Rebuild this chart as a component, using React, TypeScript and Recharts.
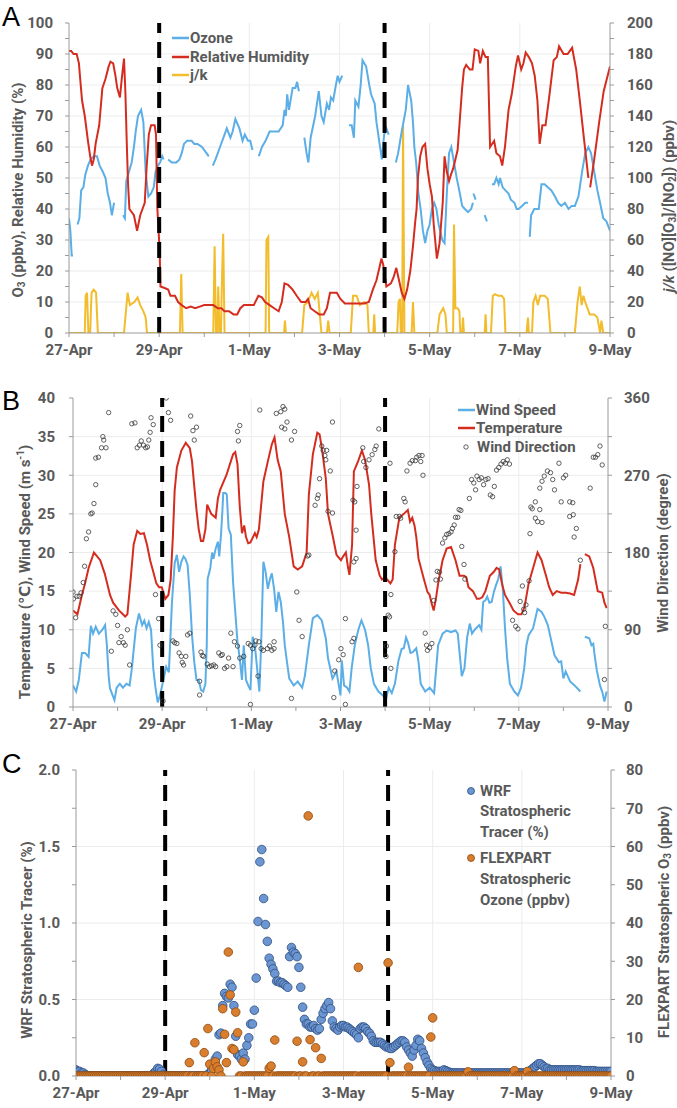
import React from 'react';
import { ComposedChart, Line, Scatter, XAxis, YAxis, CartesianGrid, ReferenceLine } from 'recharts';

// ---------- shared axis data ----------
const dateLabels = ['27-Apr', '29-Apr', '1-May', '3-May', '5-May', '7-May', '9-May'];
const dayTicks = [0, 1, 2, 3, 4, 5, 6, 7, 8, 9, 10, 11, 12];
const gridDays = [2, 4, 6, 8, 10];
const frontDays = [2, 7]; // dashed black lines (29-Apr, 4-May)

// ---------- Panel A (day since 27-Apr 00:00, value) ----------
const ozone: [number, number | null][] = [
  [0, 37], [0.03, 33], [0.06, 25], [0.09, 25], [0.14, null],
  [0.19, 35], [0.23, 37], [0.27, 46], [0.32, 47], [0.36, 51], [0.42, 54], [0.48, 56], [0.55, 57], [0.62, 57], [0.68, 54], [0.75, 52], [0.81, 50], [0.86, 45], [0.91, 42], [0.95, 38], [1.0, 42], [1.1, null],
  [1.2, 38], [1.24, 37], [1.27, 49], [1.33, 52], [1.39, 55], [1.44, 60], [1.48, 65], [1.53, 70], [1.6, 72], [1.65, 68], [1.7, 52], [1.76, 44], [1.82, 45], [1.88, 47], [1.92, 52], [1.97, 54], [2.02, 55], [2.07, 57], [2.1, 56], [2.15, null],
  [2.2, 56], [2.28, 55], [2.38, 55], [2.45, 56], [2.5, 58], [2.55, 61], [2.62, 62], [2.72, 62], [2.78, 61], [2.85, 61], [2.95, 60], [3.05, 58], [3.1, 57], [3.15, null],
  [3.19, 54], [3.25, 56], [3.35, 60], [3.45, 64], [3.5, 66], [3.58, 63], [3.63, 65], [3.69, 69], [3.78, 66], [3.85, 62], [3.9, 64], [3.97, 62], [4.02, 62], [4.07, 59], [4.14, null],
  [4.21, 57], [4.28, 60], [4.36, 62], [4.45, 65], [4.55, 65], [4.65, 65], [4.74, 67], [4.78, 72], [4.81, 70], [4.84, 77], [4.88, 72], [4.96, 79], [5.02, 79], [5.06, 81], [5.1, 78], [5.16, null],
  [5.22, 63], [5.27, 58], [5.31, 55], [5.36, 63], [5.46, 70], [5.54, 78], [5.6, 70], [5.65, 68], [5.72, 74], [5.77, 72], [5.81, 76], [5.86, 75], [5.92, 80], [5.96, 83], [6.0, 81], [6.06, 83], [6.14, null],
  [6.21, 67], [6.27, 67], [6.32, 63], [6.35, 75], [6.42, 73], [6.47, 80], [6.51, 88], [6.59, 86], [6.66, 80], [6.7, 77], [6.78, 74], [6.82, 68], [6.9, 60], [6.94, 56], [6.99, 64], [7.04, 66], [7.09, 64], [7.17, null],
  [7.25, 55], [7.3, 58], [7.38, 65], [7.47, 72], [7.52, 80], [7.59, 75], [7.63, 68], [7.66, 60], [7.7, 55], [7.75, 45], [7.8, 40], [7.85, 33], [7.9, 29], [7.95, 33], [8.0, 35], [8.05, 40], [8.1, 42], [8.15, 40], [8.2, 35], [8.28, 30], [8.33, 29], [8.38, 45], [8.43, 58], [8.48, 60], [8.54, 55], [8.6, 50], [8.67, 45], [8.72, 41], [8.78, 40], [8.85, 39], [8.92, 40], [8.96, 42], [8.965, null],
  [8.97, 45], [9.02, 43], [9.1, null],
  [9.22, 38], [9.27, 36], [9.32, null],
  [9.38, 48], [9.43, 48], [9.48, 50], [9.53, 48], [9.56, 50], [9.62, 47], [9.68, 46], [9.75, 45], [9.8, 43], [9.88, 42], [9.93, 40], [9.97, 40], [10.05, 41], [10.12, 42], [10.18, 42], [10.2, null],
  [10.22, 31], [10.25, 38], [10.32, 40], [10.42, 40], [10.48, 48], [10.55, 48], [10.62, 47], [10.7, 46], [10.78, 44], [10.85, 42], [10.92, 41], [11.0, 42], [11.08, 40], [11.15, 41], [11.22, 41], [11.3, 44], [11.38, 52], [11.45, 58], [11.52, 60], [11.58, 58], [11.65, 52], [11.72, 46], [11.78, 42], [11.85, 37], [11.92, 36], [12, 33],
];

const humidity: [number, number | null][] = [
  [0, 91], [0.05, 91], [0.1, 90], [0.17, 90], [0.22, 87], [0.26, 80], [0.29, 75], [0.35, 70], [0.42, 62], [0.47, 57], [0.51, 54], [0.55, 56], [0.59, 61], [0.67, 67], [0.74, 79], [0.81, 82], [0.88, 86], [0.92, 87.5], [0.98, 87], [1.03, 83], [1.07, 79], [1.13, 76], [1.17, 82], [1.22, 88.5], [1.25, 78], [1.28, 62], [1.31, 48], [1.34, 40], [1.44, 38], [1.51, 33], [1.58, 38], [1.68, 42], [1.72, 53], [1.77, 64], [1.82, 67], [1.9, 67], [1.93, 64], [1.96, 40], [2.01, 27],
  [2.03, 15], [2.12, 14.5], [2.2, 14], [2.25, 12], [2.35, 12], [2.42, 10], [2.5, 9], [2.6, 8], [2.7, 8.5], [2.8, 8], [2.9, 8.5], [3.0, 9], [3.1, 9], [3.2, 9], [3.3, 8], [3.38, 8], [3.45, 7], [3.55, 7], [3.65, 6], [3.73, 6], [3.8, 8], [3.88, 9], [4.0, 9], [4.1, 9], [4.2, 12], [4.28, 11.5], [4.35, 10], [4.45, 9], [4.55, 8], [4.65, 7], [4.72, 10], [4.78, 16], [4.86, 15.5], [4.96, 14], [5.05, 12], [5.15, 10], [5.25, 10], [5.3, 11], [5.36, 8], [5.45, 7], [5.55, 6], [5.65, 6], [5.72, 8], [5.79, 13], [5.88, 13], [5.94, 13], [6.02, 11], [6.12, 9.5], [6.25, 9.5], [6.4, 9.5], [6.55, 9.5], [6.65, 10], [6.74, 14], [6.82, 17], [6.9, 22], [6.93, 24], [6.97, 22], [7.04, 15], [7.14, 16], [7.2, 18], [7.26, 21], [7.32, 17], [7.38, 13], [7.44, 11],
  [7.5, 14], [7.57, 20], [7.63, 28], [7.68, 36], [7.71, 40], [7.74, 50], [7.79, 57], [7.84, 60], [7.9, 61], [7.95, 53], [8.0, 48], [8.05, 44], [8.09, 35], [8.16, 24], [8.22, 29], [8.29, 42], [8.33, 57], [8.38, 52], [8.43, 49], [8.47, 51], [8.52, 53], [8.57, 56], [8.62, 59], [8.67, 69], [8.72, 79], [8.76, 85], [8.81, 86.5], [8.89, 85], [8.95, 85],
  [9.0, 91.5], [9.08, 91], [9.12, 87], [9.18, 91], [9.24, 89], [9.29, 89], [9.34, 60], [9.43, 62], [9.48, 58], [9.56, 57], [9.61, 54], [9.67, 60], [9.75, 72], [9.82, 77], [9.91, 86], [9.96, 89.5], [10.03, 85], [10.08, 87], [10.13, 90.5], [10.2, 89], [10.27, 87], [10.33, 83], [10.39, 75], [10.44, 61], [10.5, 67], [10.57, 67], [10.65, 76], [10.75, 88], [10.82, 89], [10.87, 92.5], [10.97, 90], [11.06, 90], [11.11, 91], [11.16, 92], [11.25, 85], [11.33, 75], [11.42, 63], [11.52, 50], [11.54, null],
  [11.56, 47], [11.65, 56], [11.76, 68], [11.86, 78], [12, 86],
];

const jk: [number, number][] = [
  [0, 0], [0.35, 0], [0.37, 24], [0.4, 26], [0.43, 0], [0.47, 0], [0.5, 26], [0.55, 28], [0.6, 26], [0.64, 0],
  [1.22, 0], [1.3, 26], [1.35, 18], [1.45, 20], [1.52, 23], [1.58, 18], [1.65, 14], [1.7, 10], [1.73, 0],
  [2.46, 0], [2.49, 38], [2.52, 0],
  [3.2, 0], [3.23, 56], [3.26, 0], [3.29, 0], [3.31, 30], [3.34, 0], [3.37, 0], [3.39, 30], [3.42, 64], [3.45, 0],
  [4.36, 0], [4.38, 60], [4.42, 62], [4.44, 0], [4.77, 0], [4.79, 8], [4.81, 0],
  [5.17, 0], [5.22, 18], [5.3, 20], [5.38, 26], [5.45, 22], [5.52, 26], [5.6, 0], [5.72, 0], [5.75, 8], [5.78, 0],
  [6.25, 0], [6.3, 24], [6.38, 24], [6.45, 18], [6.55, 20], [6.62, 18], [6.65, 0], [6.75, 0], [6.77, 12], [6.79, 0],
  [7.28, 0], [7.31, 20], [7.34, 22], [7.36, 0], [7.39, 0], [7.41, 134], [7.44, 0],
  [7.6, 0], [7.63, 20], [7.66, 0], [8.17, 0], [8.22, 12], [8.3, 16], [8.35, 12], [8.38, 0],
  [8.52, 0], [8.54, 70], [8.57, 16], [8.62, 16], [8.66, 14], [8.68, 0], [8.72, 0], [8.74, 10], [8.76, 0],
  [9.22, 0], [9.24, 12], [9.26, 0], [9.36, 0], [9.4, 24], [9.45, 25], [9.52, 24], [9.6, 24], [9.65, 22], [9.68, 0],
  [10.15, 0], [10.18, 10], [10.2, 0], [10.27, 0], [10.3, 20], [10.35, 24], [10.4, 18], [10.45, 24], [10.55, 24], [10.62, 22], [10.68, 0],
  [11.22, 0], [11.28, 20], [11.33, 30], [11.37, 18], [11.41, 24], [11.45, 20], [11.5, 16], [11.55, 12], [11.65, 12], [11.72, 10], [11.78, 0], [11.81, 8], [11.85, 0], [12, 0],
];

// ---------- Panel B ----------
const temperature: [number, number | null][] = [
  [0, 12.5], [0.1, 12], [0.2, 14.5], [0.27, 16], [0.35, 18], [0.47, 20], [0.54, 19.5], [0.61, 19], [0.71, 17.3], [0.83, 14.5], [0.9, 13.5], [1.03, 12.5], [1.12, 12], [1.17, 11.7], [1.22, 12], [1.3, 17], [1.36, 21], [1.44, 22.8], [1.51, 22.4], [1.59, 22.5], [1.66, 21], [1.73, 19], [1.8, 17.5], [1.87, 16], [1.93, 15.5], [1.99, 15.5], [2.07, 14], [2.14, 14.5], [2.19, 16.5], [2.24, 22], [2.28, 28], [2.33, 31], [2.43, 33.2], [2.53, 34.2], [2.62, 33.5], [2.67, 31.8], [2.71, 29.2], [2.77, 25.5], [2.82, 23], [2.87, 21.5], [2.92, 21.5], [2.97, 23], [3.01, 26.2], [3.1, 25], [3.2, 24.5], [3.25, 27], [3.3, 28.1], [3.44, 30], [3.59, 32.7], [3.64, 33], [3.69, 31.4], [3.74, 26], [3.79, 22.5], [3.84, 23.5], [3.88, 22], [3.93, 21.2], [3.98, 21.3], [4.08, 22.5], [4.12, 22], [4.17, 23], [4.27, 29.2], [4.37, 31.8], [4.46, 34], [4.52, 34.9], [4.59, 32], [4.66, 30.5], [4.75, 25], [4.85, 22], [4.95, 18.2], [5.04, 17.8], [5.14, 18.2], [5.24, 20], [5.29, 27.5], [5.38, 32.7], [5.48, 35.5], [5.53, 35.3], [5.58, 33.6], [5.67, 29.6], [5.72, 25], [5.82, 22.3], [5.91, 19.7], [6.01, 19], [6.06, 19.5], [6.12, 20], [6.17, 18], [6.2, 17.1], [6.26, 21], [6.3, 30.5], [6.4, 31.9], [6.48, 33.2], [6.55, 32], [6.64, 28.8], [6.69, 25], [6.79, 19], [6.88, 17], [6.93, 16.5], [7.0, 16.8], [7.05, 16.5], [7.12, 16], [7.17, 16.5], [7.22, 21], [7.32, 24.5], [7.42, 25], [7.51, 25.5], [7.56, 24], [7.61, 24.5], [7.66, 23.5], [7.7, 22], [7.75, 19.2], [7.85, 17], [7.95, 14.9], [8.0, 14.5], [8.04, 13.5], [8.09, 12.5], [8.14, 14], [8.19, 16], [8.24, 17.5], [8.29, 19], [8.38, 20.5], [8.48, 20.7], [8.58, 19], [8.67, 17], [8.77, 17], [8.82, 16.8], [8.87, 15.5], [8.97, 15], [9.06, 14], [9.11, 14], [9.18, 14.2], [9.25, 15], [9.35, 17], [9.44, 17.5], [9.5, 18], [9.56, 17.8], [9.62, 16], [9.69, 14.5], [9.79, 13.5], [9.88, 12.5], [9.98, 12], [10.06, 12], [10.13, 13], [10.22, 16], [10.32, 18], [10.42, 20], [10.51, 19], [10.61, 17], [10.68, 15.5], [10.76, 14.5], [10.85, 15], [10.95, 14.8], [11.05, 14.8], [11.15, 14.7], [11.24, 14.5], [11.33, 16.5], [11.38, 18.5], [11.43, null],
  [11.48, 19.8], [11.58, 19.5], [11.67, 18], [11.77, 15], [11.87, 14.8], [11.92, 13.5], [11.97, 12.8],
];

const windSpeed: [number, number | null][] = [
  [0, 2.8], [0.07, 2], [0.13, 3.5], [0.2, 7], [0.27, 7], [0.35, 6.5], [0.4, 10.5], [0.45, 9.5], [0.51, 10.4], [0.58, 9.5], [0.66, 10], [0.72, 10.6], [0.76, 8], [0.8, 4], [0.83, 2.4], [0.93, 0.9], [0.98, 2.5], [1.05, 3], [1.12, 2.5], [1.2, 3], [1.27, 2.8], [1.32, 5], [1.41, 10.2], [1.48, 12.1], [1.55, 10.6], [1.6, 11.2], [1.65, 10.2], [1.7, 11], [1.75, 10], [1.8, 5], [1.85, 2.5], [1.9, 0.6], [1.95, 1.5], [2.0, 2.8], [2.09, 5.2], [2.15, 4.5], [2.22, 13.6], [2.28, 18.6], [2.33, 19.7], [2.38, 17.5], [2.43, 18.8], [2.48, 19.5], [2.52, 19.2], [2.57, 18.4], [2.62, 14.5], [2.67, 9.3], [2.72, 5.8], [2.77, 3.5], [2.82, 3.5], [2.87, 2.2], [2.92, 2], [2.97, 3], [3.0, 8], [3.02, 16.6], [3.08, 18], [3.12, 20], [3.15, 19.2], [3.2, 20.5], [3.25, 21.4], [3.28, 19.5], [3.32, 22.3], [3.35, 25.3], [3.37, 27.7], [3.42, 27.7], [3.45, 27.5], [3.49, 23.1], [3.54, 22.3], [3.59, 16.2], [3.64, 12.3], [3.69, 8.4], [3.74, 6.3], [3.79, 3.5], [3.83, 8], [3.88, 3.5], [3.93, 2.8], [3.98, 2.2], [4.03, 9.1], [4.08, 7.9], [4.13, 5], [4.18, 2], [4.22, 8], [4.27, 18.8], [4.32, 17.5], [4.37, 15.3], [4.42, 16.6], [4.46, 17.3], [4.51, 15.3], [4.56, 12.3], [4.61, 14.9], [4.66, 13.6], [4.71, 11], [4.75, 8], [4.8, 5.8], [4.85, 3.7], [4.95, 2.8], [5.04, 3.3], [5.14, 2.5], [5.2, 4], [5.29, 8], [5.38, 11.5], [5.48, 11.9], [5.58, 11.2], [5.67, 8.9], [5.72, 6.3], [5.82, 3.7], [5.91, 4.6], [6.0, 1.5], [6.03, 6], [6.08, 2.8], [6.15, 2.5], [6.2, 2], [6.25, 5], [6.32, 8], [6.4, 10], [6.47, 11.2], [6.55, 10], [6.62, 8], [6.68, 5], [6.75, 3], [6.85, 2], [6.95, 1.5], [7.02, 1], [7.08, 2.5], [7.15, 1.8], [7.22, 3], [7.3, 6], [7.37, 7.5], [7.42, 7.6], [7.47, 9], [7.51, 8.4], [7.57, 7], [7.62, 7.1], [7.7, 7.6], [7.75, 5.8], [7.8, 3], [7.9, 2], [8.0, 2.5], [8.1, 1.8], [8.19, 8], [8.29, 9.5], [8.38, 9.9], [8.48, 9.7], [8.58, 9.9], [8.63, 9.5], [8.67, 7.1], [8.72, 4], [8.78, 5], [8.84, 9], [8.9, 10.8], [8.95, 9.5], [9.01, 10], [9.11, 10.6], [9.16, 10], [9.2, 13.6], [9.25, 13.8], [9.29, 14.3], [9.34, 13.5], [9.39, 13.6], [9.44, 14.9], [9.49, 15.8], [9.54, 16.6], [9.59, 18.2], [9.64, 15.3], [9.69, 10.2], [9.74, 6.2], [9.8, 3], [9.9, 2], [9.98, 1.5], [10.05, 2.5], [10.12, 5], [10.17, 8], [10.22, 9.3], [10.32, 10.2], [10.42, 12.7], [10.47, 12.5], [10.51, 12.3], [10.57, 11.7], [10.65, 10.6], [10.7, 9.3], [10.8, 6.7], [10.9, 5.8], [10.95, 5.9], [11.0, 3.7], [11.05, 4.6], [11.15, 3.3], [11.25, 2.8], [11.38, 2], [11.43, null],
  [11.48, 9.1], [11.53, 9], [11.58, 8.9], [11.63, 8], [11.67, 8.2], [11.7, 6.7], [11.75, 4.7], [11.82, 2.8], [11.87, 2], [11.92, 0.7], [11.97, 2],
];

const windDir: [number, number][] = [
  [0, 134], [0.01, 126], [0.06, 104], [0.09, 129], [0.14, 129], [0.18, 133], [0.23, 145], [0.26, 164], [0.3, 196], [0.35, 204], [0.4, 225], [0.43, 226], [0.47, 237], [0.51, 259], [0.51, 290], [0.57, 291], [0.64, 302], [0.67, 315], [0.69, 311], [0.74, 302], [0.8, 343],
  [0.86, 65], [0.9, 112], [0.96, 108], [1.0, 95], [1.03, 75], [1.08, 82], [1.13, 75], [1.17, 72], [1.22, 90], [1.27, 49],
  [1.32, 330], [1.39, 331], [1.44, 302], [1.49, 305], [1.53, 310], [1.58, 305], [1.63, 302], [1.67, 303], [1.7, 311], [1.73, 320], [1.75, 337], [1.8, 329],
  [1.85, 131], [1.92, 103], [1.95, 72], [2.02, 7], [2.09, 360], [2.14, 343], [2.19, 334],
  [2.24, 77], [2.28, 75], [2.33, 74], [2.38, 63], [2.43, 59], [2.45, 52], [2.48, 49], [2.53, 59], [2.57, 84], [2.62, 86],
  [2.64, 339], [2.69, 322], [2.72, 311], [2.77, 326],
  [2.84, 30], [2.84, 14], [2.87, 64], [2.9, 60], [2.93, 59], [3.01, 50], [3.06, 47], [3.11, 48], [3.16, 49], [3.2, 47], [3.27, 63], [3.32, 60], [3.35, 61], [3.4, 45], [3.45, 47], [3.49, 57], [3.54, 86], [3.59, 47], [3.62, 76], [3.69, 71], [3.74, 57],
  [3.69, 321], [3.71, 310], [3.74, 328],
  [3.83, 59], [3.93, 74], [3.98, 72], [3.98, 3], [4.03, 68], [4.08, 72], [4.1, 77], [4.15, 36], [4.17, 76], [4.22, 68], [4.27, 66], [4.36, 68], [4.41, 71], [4.46, 66], [4.51, 68], [4.51, 76],
  [4.19, 346], [4.56, 342], [4.66, 344], [4.68, 326], [4.71, 350], [4.75, 347], [4.75, 324], [4.8, 332], [4.9, 311], [4.97, 321],
  [4.9, 10], [5.02, 134], [5.07, 101], [5.14, 82], [5.26, 176], [5.29, 177],
  [5.43, 235], [5.48, 243], [5.5, 247], [5.53, 266], [5.58, 304], [5.61, 299], [5.65, 293], [5.67, 288], [5.69, 299], [5.72, 228], [5.77, 275], [5.82, 226], [5.82, 332],
  [5.85, 11], [5.87, 42], [5.96, 55], [6.01, 68], [6.06, 61], [6.11, 103], [6.11, 3], [6.26, 76], [6.3, 80], [6.3, 169], [6.35, 173], [6.35, 206],
  [6.28, 241], [6.32, 239], [6.37, 257], [6.5, 302], [6.52, 286], [6.57, 279], [6.64, 288], [6.71, 294], [6.77, 300], [6.8, 304], [6.86, 324],
  [7.02, 59], [7.03, 71], [7.07, 107], [7.1, 105], [7.11, 284], [7.13, 131], [7.13, 45], [7.22, 181], [7.25, 222], [7.32, 222], [7.35, 220],
  [7.42, 243], [7.45, 239], [7.49, 275], [7.56, 284], [7.61, 287], [7.68, 287], [7.71, 291], [7.76, 293], [7.8, 286], [7.83, 293], [7.85, 270],
  [7.9, 86], [7.93, 72], [7.95, 66], [8.0, 69], [8.05, 74], [8.09, 124], [8.14, 148], [8.17, 158], [8.22, 157], [8.24, 149],
  [8.29, 191], [8.34, 197], [8.38, 201], [8.43, 202], [8.48, 204], [8.51, 208], [8.55, 212], [8.58, 221], [8.63, 221], [8.66, 230], [8.7, 229], [8.72, 187], [8.77, 166], [8.79, 149],
  [8.89, 243], [8.94, 265], [8.99, 261], [9.03, 253], [9.06, 269], [9.11, 265], [9.16, 267], [9.21, 259], [9.26, 265], [9.31, 266], [9.36, 247], [9.41, 245], [9.45, 257], [9.5, 276], [9.55, 279], [9.6, 283], [9.65, 286], [9.7, 284], [9.74, 288], [9.79, 283],
  [9.86, 101], [9.93, 94], [9.98, 91], [10.03, 123], [10.08, 141], [10.11, 114], [10.13, 110], [10.16, 119], [10.23, 147], [10.25, 202], [10.3, 231], [10.37, 220], [10.42, 216], [10.47, 230], [10.52, 215],
  [10.27, 233], [10.37, 239], [10.47, 255], [10.52, 263], [10.57, 269], [10.64, 275], [10.71, 273], [10.76, 265], [10.8, 253], [10.9, 284], [10.95, 239], [11.0, 267], [11.05, 270], [11.14, 239], [11.21, 238],
  [11.14, 222], [11.22, 224], [11.24, 198], [11.29, 208], [11.38, 171],
  [11.6, 255], [11.67, 291], [11.72, 291], [11.77, 294], [11.82, 304], [11.87, 282], [11.92, 32], [11.94, 94],
];

// ---------- Panel C (hourly, one row per day) ----------
const wrfTracer: number[] = [
  0.04, 0.03, 0.03, 0.02, 0.02, 0.01, 0, 0, 0, 0, 0, 0, 0, 0, 0, 0, 0, 0, 0, 0, 0, 0, 0, 0,
  0, 0, 0, 0, 0, 0, 0, 0, 0, 0, 0, 0, 0, 0, 0, 0, 0, 0, 0.02, 0.03, 0.05, 0.045, 0.03, 0.01,
  0, 0, 0, 0, 0, 0, 0, 0, 0, 0, 0, 0, 0, 0, 0, 0, 0, 0, 0, 0, 0, 0, 0, 0.01,
  0.02, 0.04, 0.06, 0.11, 0.13, 0.27, 0.28, 0.46, 0.54, 0.52, 0.51, 0.6, 0.58, 0.46, 0.26, 0.14, 0.13, 0.11, 0.15, 0.11, 0.2, 0.25, 0.34, 0.34,
  0.43, 0.64, 1.01, 1.4, 1.48, 1.16, 0.99, 0.88, 0.77, 0.73, 0.7, 0.67, 0.62, 0.62, 0.61, 0.61, 0.6, 0.59, 0.58, 0.78, 0.84, 0.81, 0.8, 0.78,
  0.71, 0.58, 0.45, 0.37, 0.34, 0.34, 0.32, 0.32, 0.33, 0.31, 0.3, 0.31, 0.37, 0.41, 0.44, 0.46, 0.48, 0.44, 0.36, 0.32, 0.31, 0.3, 0.32, 0.33,
  0.33, 0.32, 0.32, 0.31, 0.3, 0.29, 0.28, 0.27, 0.25, 0.31, 0.32, 0.32, 0.31, 0.29, 0.28, 0.26, 0.23, 0.22, 0.22, 0.22, 0.22, 0.21, 0.2, 0.19,
  0.19, 0.18, 0.18, 0.19, 0.2, 0.21, 0.22, 0.23, 0.23, 0.22, 0.19, 0.17, 0.15, 0.13, 0.17, 0.2, 0.24, 0.23, 0.18, 0.15, 0.12, 0.09, 0.07, 0.05,
  0.04, 0.035, 0.03, 0.03, 0.03, 0.03, 0.04, 0.035, 0.03, 0.025, 0.02, 0.02, 0.02, 0.02, 0.02, 0.02, 0.02, 0.02, 0.02, 0.02, 0.02, 0.02, 0.02, 0.02,
  0.02, 0.02, 0.02, 0.02, 0.02, 0.02, 0.02, 0.02, 0.02, 0.02, 0.02, 0.02, 0.02, 0.02, 0.02, 0.02, 0.02, 0.02, 0.02, 0.02, 0.02, 0.02, 0.02, 0.02,
  0.02, 0.02, 0.02, 0.02, 0.03, 0.04, 0.05, 0.06, 0.07, 0.08, 0.08, 0.07, 0.06, 0.05, 0.05, 0.04, 0.04, 0.04, 0.04, 0.04, 0.04, 0.04, 0.04, 0.04,
  0.04, 0.04, 0.04, 0.04, 0.04, 0.04, 0.04, 0.04, 0.035, 0.035, 0.035, 0.035, 0.035, 0.035, 0.035, 0.035, 0.03, 0.03, 0.03, 0.03, 0.03, 0.03, 0.03, 0.03,
  0.03,
];

const flexpartO3: number[] = [
  0, 0, 0, 0, 0, 0, 0, 0, 0, 0, 0, 0, 0, 0, 0, 0, 0, 0, 0, 0, 0, 0, 0, 0,
  0, 0, 0, 0, 0, 0, 0, 0, 0, 0, 0, 0, 0, 0, 0, 0, 0, 0, 0, 0, 0, 0, 0, 0,
  0, 0, 0, 0, 0, 0, 0, 0, 0, 0, 0, 0, 0, 3.5, 0, 0, 8.7, 0, 0, 0, 0, 6.1, 0, 12.4,
  3.1, 0, 2, 3.7, 2.4, 1.6, 0, 17.6, 10.9, 3.5, 32.4, 21.2, 7.2, 6.9, 16.7, 11.3, 0, 0, 3.7, 0, 0, 0, 0, 0,
  0, 0, 0, 0, 0, 0, 0, 0, 2, 2.6, 0, 9.4, 0, 0, 0, 0, 0, 0, 0, 0, 0, 0, 0, 9.1,
  0, 0, 3.7, 0, 0, 68, 9.5, 0, 0, 7.4, 0, 0, 4.6, 0, 0, 0, 0, 0, 0, 0, 0, 0, 0, 0,
  0, 0, 0, 0, 0, 0, 0, 0, 28.4, 0, 0, 0, 0, 0, 0, 0, 0, 0, 0, 0, 0, 0, 0, 0,
  29.6, 3.5, 0, 0, 0, 0, 0, 0, 0, 0, 0, 2.3, 0, 0, 0, 0, 0, 0, 0, 0, 0, 0, 0, 10.2,
  15.2, 0, 0, 0, 0, 0, 0, 0, 0, 0, 0, 0, 0, 0, 0, 0, 0, 0, 0, 1.1, 0, 0, 0, 0,
  0, 0, 0, 0, 0, 0, 0, 0, 0, 0, 0, 0, 0, 0, 0, 0, 0, 0, 0, 0, 1.4, 0, 0, 0,
  0, 0, 0, 1.2, 0, 0, 0, 0, 0, 0, 0, 0, 0, 0, 0, 0, 0, 0, 0, 0, 0, 0, 0, 0,
  0, 0, 0, 0, 0, 0, 0, 0, 0, 0, 0, 0, 0, 0, 0, 0, 0, 0, 0, 0, 0, 0, 0, 0,
  0,
];

// ---------- styles ----------
const FONT = 'Roboto, "Open Sans", "DejaVu Sans", sans-serif';
const GRAY = '#595959';
const AXIS = '#9a9a9a';
const GRID = '#ececec';
const BLUE = '#5BAEE6';
const RED = '#D42D1F';
const GOLD = '#F2BC2C';
const WRF_FILL = '#6B96D2';
const WRF_STROKE = '#2F4D7E';
const FLX_FILL = '#D97E2E';
const FLX_STROKE = '#8C4A13';

const pts = (arr: [number, number | null][]) => arr.map(([t, v]) => ({ t, v }));
const hourly = (arr: number[]) => arr.map((v, i) => ({ t: i / 24, v }));

const tickStyle = { fill: GRAY, fontSize: 15, fontWeight: 700, fontFamily: FONT };
const dateFmt = (v: number) => (v % 2 === 0 ? dateLabels[v / 2] : '');
const range = (a: number, b: number, s: number) => {
  const out: number[] = [];
  for (let x = a; x <= b + 1e-9; x += s) out.push(Math.round(x * 1000) / 1000);
  return out;
};

function commonX() {
  return [
    <XAxis key="xb" xAxisId="b" dataKey="t" type="number" domain={[0, 12]} allowDataOverflow ticks={dayTicks} interval={0}
      tickFormatter={dateFmt} tick={tickStyle} tickLine={{ stroke: AXIS }} tickSize={4} tickMargin={7}
      axisLine={{ stroke: AXIS }} height={30} />,
    <XAxis key="xt" xAxisId="top" orientation="top" dataKey="t" type="number" domain={[0, 12]} allowDataOverflow
      tick={false} tickLine={false} axisLine={{ stroke: AXIS }} height={0} />,
  ];
}

const fronts = frontDays.map((d) => (
  <ReferenceLine key={'f' + d} x={d} xAxisId="b" yAxisId="left" stroke="#000" strokeWidth={4} strokeDasharray="16 9" />
));

const dirShape = (p: any) => <circle cx={p.cx} cy={p.cy} r={2.2} fill="none" stroke="#3a3a3a" strokeWidth={0.8} />;
const wrfShape = (p: any) => <circle cx={p.cx} cy={p.cy} r={4.3} fill={WRF_FILL} stroke={WRF_STROKE} strokeWidth={0.8} />;
const flxShape = (p: any) => <circle cx={p.cx} cy={p.cy} r={4.3} fill={FLX_FILL} stroke={FLX_STROKE} strokeWidth={0.8} />;

function PanelA() {
  const lt = range(0, 100, 5);
  const rt = range(0, 200, 10);
  return (
    <ComposedChart width={677} height={370} margin={{ top: 23, right: 0, bottom: 7, left: 0 }}>
      <CartesianGrid xAxisId="b" yAxisId="left" stroke={GRID} horizontalValues={range(10, 90, 10)} verticalValues={gridDays} />
      {commonX()}
      <YAxis yAxisId="left" type="number" domain={[0, 100]} allowDataOverflow ticks={lt} interval={0} width={69}
        tickFormatter={(v: number) => (v % 10 === 0 ? String(v) : '')} tick={tickStyle} tickSize={4} tickMargin={12}
        tickLine={{ stroke: AXIS }} axisLine={{ stroke: AXIS }} />
      <YAxis yAxisId="right" orientation="right" type="number" domain={[0, 200]} allowDataOverflow ticks={rt} interval={0} width={67}
        tickFormatter={(v: number) => (v % 20 === 0 ? String(v) : '')} tick={tickStyle} tickSize={4} tickMargin={13}
        tickLine={{ stroke: AXIS }} axisLine={{ stroke: AXIS }} />
      <Line data={pts(jk)} dataKey="v" xAxisId="b" yAxisId="right" stroke={GOLD} strokeWidth={2} dot={false} activeDot={false} isAnimationActive={false} />
      <Line data={pts(ozone)} dataKey="v" xAxisId="b" yAxisId="left" stroke={BLUE} strokeWidth={2} dot={false} activeDot={false} isAnimationActive={false} />
      <Line data={pts(humidity)} dataKey="v" xAxisId="b" yAxisId="left" stroke={RED} strokeWidth={2} dot={false} activeDot={false} isAnimationActive={false} />
      {fronts}
    </ComposedChart>
  );
}

function PanelB() {
  const lt = range(0, 40, 5);
  const rt = range(0, 360, 45);
  return (
    <ComposedChart width={677} height={370} margin={{ top: 28, right: 0, bottom: 3, left: 0 }}>
      <CartesianGrid xAxisId="b" yAxisId="left" stroke={GRID} horizontalValues={range(5, 35, 5)} verticalValues={gridDays} />
      {commonX()}
      <YAxis yAxisId="left" type="number" domain={[0, 40]} allowDataOverflow ticks={lt} interval={0} width={73}
        tick={tickStyle} tickSize={4} tickMargin={14} tickLine={{ stroke: AXIS }} axisLine={{ stroke: AXIS }} />
      <YAxis yAxisId="right" orientation="right" type="number" domain={[0, 360]} allowDataOverflow ticks={rt} interval={0} width={69}
        tickFormatter={(v: number) => (v % 90 === 0 ? String(v) : '')} tick={tickStyle} tickSize={4} tickMargin={12}
        tickLine={{ stroke: AXIS }} axisLine={{ stroke: AXIS }} />
      <Line data={pts(windSpeed)} dataKey="v" xAxisId="b" yAxisId="left" stroke={BLUE} strokeWidth={2} dot={false} activeDot={false} isAnimationActive={false} />
      <Line data={pts(temperature)} dataKey="v" xAxisId="b" yAxisId="left" stroke={RED} strokeWidth={2} dot={false} activeDot={false} isAnimationActive={false} />
      <Scatter data={pts(windDir)} dataKey="v" xAxisId="b" yAxisId="right" shape={dirShape} isAnimationActive={false} />
      {fronts}
    </ComposedChart>
  );
}

function PanelC() {
  const lt = range(0, 2, 0.25);
  const rt = range(0, 80, 10);
  return (
    <ComposedChart width={677} height={368} margin={{ top: 30, right: 0, bottom: 2, left: 0 }}>
      <CartesianGrid xAxisId="b" yAxisId="left" stroke={GRID} horizontalValues={[0.5, 1, 1.5]} verticalValues={gridDays} />
      {commonX()}
      <YAxis yAxisId="left" type="number" domain={[0, 2]} allowDataOverflow ticks={lt} interval={0} width={76}
        tickFormatter={(v: number) => (Math.abs(v * 2 - Math.round(v * 2)) < 1e-6 ? v.toFixed(1) : '')}
        tick={tickStyle} tickSize={4} tickMargin={12} tickLine={{ stroke: AXIS }} axisLine={{ stroke: AXIS }} />
      <YAxis yAxisId="right" orientation="right" type="number" domain={[0, 80]} allowDataOverflow ticks={rt} interval={0} width={66}
        tick={tickStyle} tickSize={4} tickMargin={11} tickLine={{ stroke: AXIS }} axisLine={{ stroke: AXIS }} />
      <Scatter data={hourly(wrfTracer)} dataKey="v" xAxisId="b" yAxisId="left" shape={wrfShape} isAnimationActive={false} />
      <Scatter data={hourly(flexpartO3)} dataKey="v" xAxisId="b" yAxisId="right" shape={flxShape} isAnimationActive={false} />
      {fronts}
    </ComposedChart>
  );
}

const T = { fill: GRAY, fontFamily: FONT, fontWeight: 700, fontSize: 15 } as const;
const LETTER = { fontSize: 27, fontFamily: '"Liberation Sans", Arial, sans-serif', fill: '#000' } as const;

function Overlay() {
  return (
    <svg width={677} height={1108} style={{ position: 'absolute', left: 0, top: 0, pointerEvents: 'none' }}>
      {/* panel letters */}
      <text {...LETTER} x={2} y={26}>A</text>
      <text {...LETTER} x={2} y={410}>B</text>
      <text {...LETTER} x={2} y={773}>C</text>

      {/* axis titles A */}
      <text {...T} transform="translate(18,190) rotate(-90)" textAnchor="middle" dominantBaseline="central">
        O<tspan dy={3} fontSize={10}>3</tspan><tspan dy={-3}> (ppbv), Relative Humidity (%)</tspan>
      </text>
      <text {...T} transform="translate(669,206) rotate(-90)" textAnchor="middle" dominantBaseline="central">
        <tspan fontStyle="italic">j/k</tspan> ([NO][O<tspan dy={3} fontSize={10}>3</tspan><tspan dy={-3}>]/[NO</tspan><tspan dy={3} fontSize={10}>2</tspan><tspan dy={-3}>]) (ppbv)</tspan>
      </text>

      {/* axis titles B */}
      <text {...T} transform="translate(25,572) rotate(-90)" textAnchor="middle" dominantBaseline="central">
        Temperature (℃), Wind Speed (m s<tspan dy={-5} fontSize={10}>-1</tspan><tspan dy={5}>)</tspan>
      </text>
      <text {...T} transform="translate(663,553) rotate(-90)" textAnchor="middle" dominantBaseline="central">
        Wind Direction (degree)
      </text>

      {/* axis titles C */}
      <text {...T} transform="translate(27,940) rotate(-90)" textAnchor="middle" dominantBaseline="central">
        WRF Stratospheric Tracer (%)
      </text>
      <text {...T} transform="translate(664,922) rotate(-90)" textAnchor="middle" dominantBaseline="central">
        FLEXPART Stratospheric O<tspan dy={3} fontSize={10}>3</tspan><tspan dy={-3}> (ppbv)</tspan>
      </text>

      {/* legend A */}
      <line x1={172} y1={38} x2={189} y2={38} stroke={BLUE} strokeWidth={2.5} />
      <text {...T} x={190} y={38} dominantBaseline="central">Ozone</text>
      <line x1={172} y1={57} x2={189} y2={57} stroke={RED} strokeWidth={2.5} />
      <text {...T} x={190} y={57} dominantBaseline="central">Relative Humidity</text>
      <line x1={172} y1={75} x2={189} y2={75} stroke={GOLD} strokeWidth={2.5} />
      <text {...T} x={190} y={75} dominantBaseline="central">j/k</text>

      {/* legend B */}
      <line x1={458} y1={410} x2={475} y2={410} stroke={BLUE} strokeWidth={2.5} />
      <text {...T} x={476} y={410} dominantBaseline="central">Wind Speed</text>
      <line x1={458} y1={428} x2={475} y2={428} stroke={RED} strokeWidth={2.5} />
      <text {...T} x={476} y={428} dominantBaseline="central">Temperature</text>
      <circle cx={466} cy={447} r={2.2} fill="none" stroke="#3a3a3a" strokeWidth={0.8} />
      <text {...T} x={477} y={447} dominantBaseline="central">Wind Direction</text>

      {/* legend C */}
      <circle cx={471} cy={791} r={3.5} fill={WRF_FILL} stroke={WRF_STROKE} strokeWidth={0.8} />
      <text {...T} x={480} y={791} dominantBaseline="central">WRF</text>
      <text {...T} x={480} y={811} dominantBaseline="central">Stratospheric</text>
      <text {...T} x={480} y={832} dominantBaseline="central">Tracer (%)</text>
      <circle cx={471} cy={858} r={3.5} fill={FLX_FILL} stroke={FLX_STROKE} strokeWidth={0.8} />
      <text {...T} x={480} y={858} dominantBaseline="central">FLEXPART</text>
      <text {...T} x={480} y={879} dominantBaseline="central">Stratospheric</text>
      <text {...T} x={480} y={900} dominantBaseline="central">Ozone (ppbv)</text>
    </svg>
  );
}

export default function App() {
  return (
    <div style={{ position: 'absolute', left: 0, top: 0, width: 677, height: 1108, background: '#fff', fontFamily: FONT }}>
      <div style={{ position: 'absolute', left: 0, top: 0 }}><PanelA /></div>
      <div style={{ position: 'absolute', left: 0, top: 370 }}><PanelB /></div>
      <div style={{ position: 'absolute', left: 0, top: 740 }}><PanelC /></div>
      <Overlay />
    </div>
  );
}
